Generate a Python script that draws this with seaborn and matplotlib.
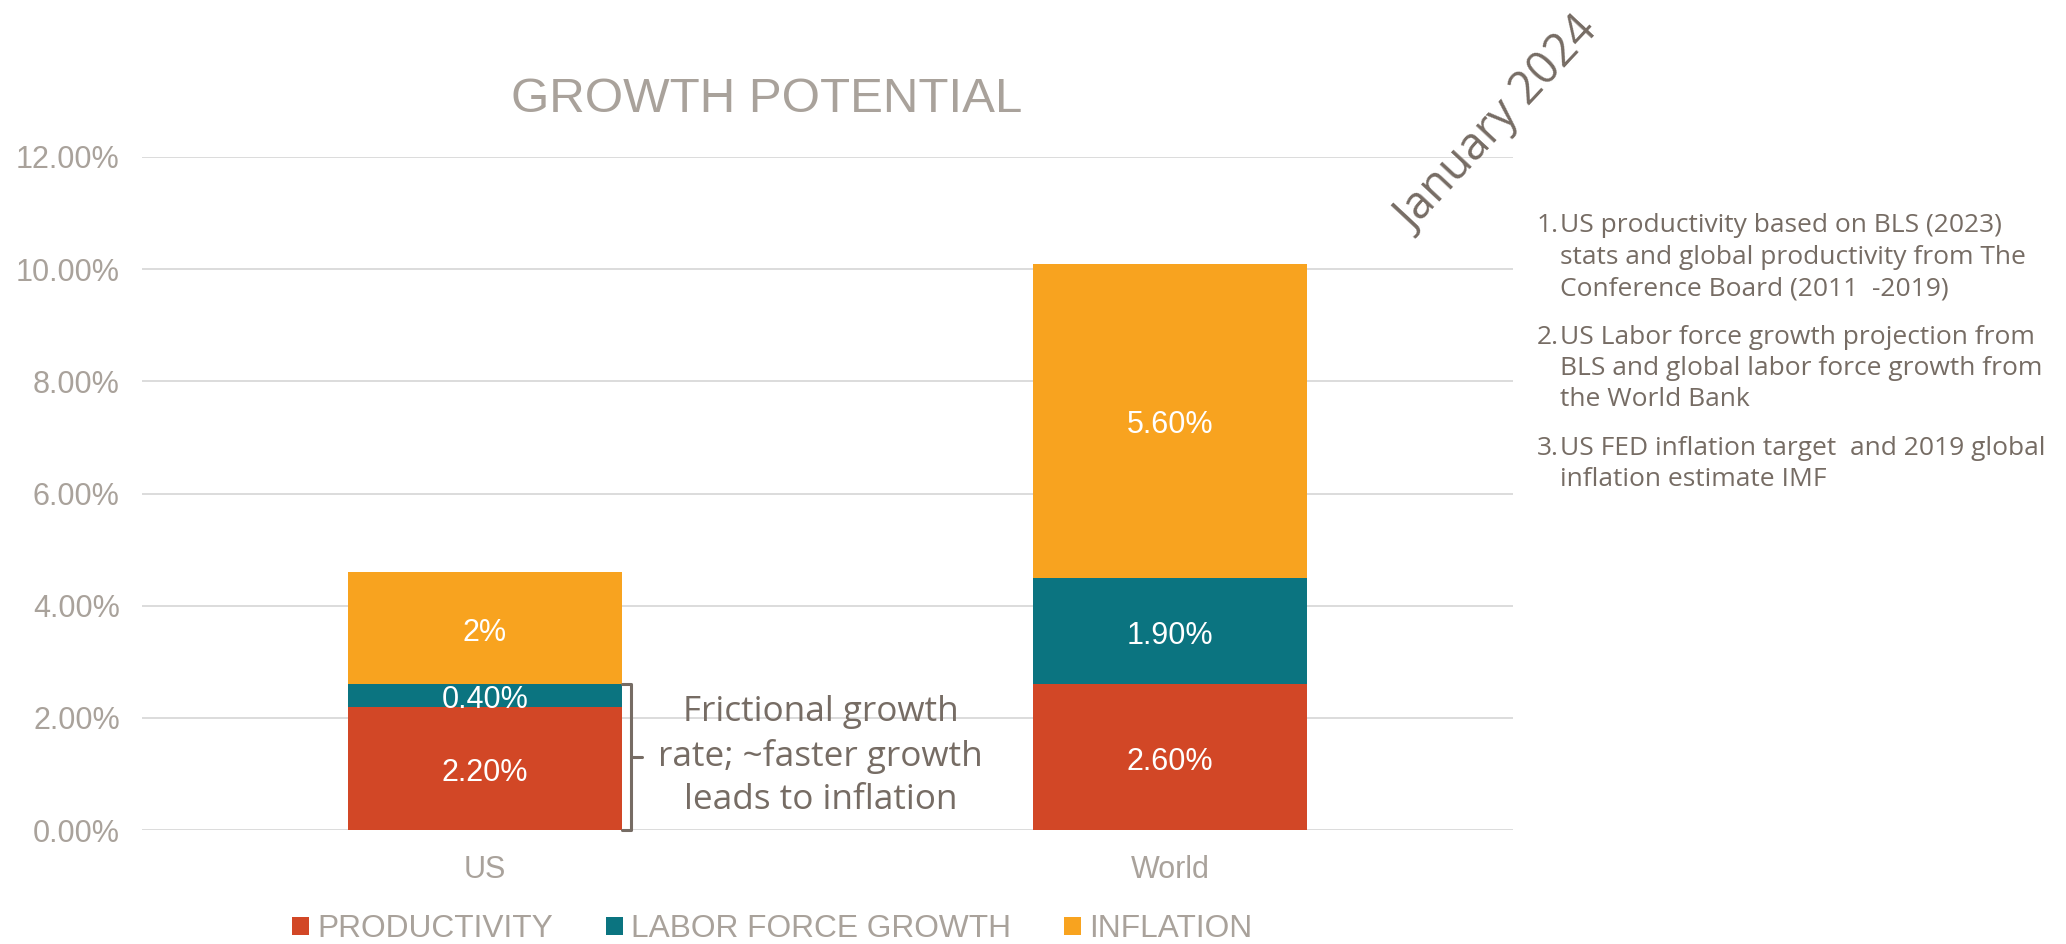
import matplotlib
matplotlib.use("Agg")
import matplotlib.pyplot as plt
import seaborn as sns
import pandas as pd
import numpy as np
from matplotlib.patches import Patch

# ---------------- data ----------------
categories = ["US", "World"]
productivity = [2.2, 2.6]
labor_force_growth = [0.4, 1.9]
inflation = [2.0, 5.6]
series_names = ["PRODUCTIVITY", "LABOR FORCE GROWTH", "INFLATION"]
productivity_labels = ["2.20%", "2.60%"]
labor_labels = ["0.40%", "1.90%"]
inflation_labels = ["2%", "5.60%"]
y_ticks = [0, 2, 4, 6, 8, 10, 12]
y_tick_labels = ["0.00%", "2.00%", "4.00%", "6.00%", "8.00%", "10.00%", "12.00%"]
title_text = "GROWTH POTENTIAL"
date_stamp = "January 2024"
annotation_text = "Frictional growth\nrate; ~faster growth\nleads to inflation"
note_numbers = ["1.", "2.", "3."]
notes = [
    ["US productivity based on BLS (2023)",
     "stats and global productivity from The",
     "Conference Board (2011  -2019)"],
    ["US Labor force growth projection from",
     "BLS and global labor force growth from",
     "the World Bank"],
    ["US FED inflation target  and 2019 global",
     "inflation estimate IMF"],
]

# ---------------- style ----------------
C_PROD = "#D24726"
C_LAB = "#0B7480"
C_INF = "#F8A31F"
GREY = "#A9A29B"
DARK = "#766C64"
GRID = "#DCDCDC"

sns.set_theme(style="white")
plt.rcParams["font.family"] = ["Liberation Sans", "DejaVu Sans"]
SEGOE = ["Open Sans", "DejaVu Sans"]

fig = plt.figure(figsize=(20.66, 9.44), dpi=100)
ax = fig.add_axes([142 / 2066, 1 - 830 / 944, (1513 - 142) / 2066, (830 - 157) / 944])

df = pd.DataFrame({
    "category": categories,
    "prod": productivity,
    "labor": labor_force_growth,
    "infl": inflation,
})
df["top_labor"] = df["prod"] + df["labor"]
df["top_infl"] = df["top_labor"] + df["infl"]

# stacked bars drawn as overlapping cumulative bars
for col, color in [("top_infl", C_INF), ("top_labor", C_LAB), ("prod", C_PROD)]:
    sns.barplot(data=df, x="category", y=col, color=color, saturation=1,
                width=0.4, errorbar=None, linewidth=0, ax=ax)

ax.set_xlim(-0.5, 1.5)
ax.set_ylim(0, 12)
ax.set_yticks(y_ticks)
ax.set_yticklabels(y_tick_labels)
ax.set_xlabel("")
ax.set_ylabel("")
ax.yaxis.grid(True, color=GRID, lw=1.4)
ax.set_axisbelow(True)
for s in ax.spines.values():
    s.set_visible(False)
ax.tick_params(axis="y", length=0, pad=16, labelsize=22, labelcolor=GREY)
ax.tick_params(axis="x", length=0, pad=18, labelsize=22, labelcolor=GREY)

# value labels
for i in range(len(categories)):
    bottoms = [0, df["prod"][i], df["top_labor"][i]]
    vals = [productivity[i], labor_force_growth[i], inflation[i]]
    labs = [productivity_labels[i], labor_labels[i], inflation_labels[i]]
    for b, v, l in zip(bottoms, vals, labs):
        ax.annotate(l, (i, b + v / 2), xytext=(0, -3.5), textcoords="offset points",
                    ha="center", va="center", color="white", fontsize=22)

# bracket annotation around US productivity + labour
top = df["top_labor"][0]
x_edge = 0 + 0.2
x_br = x_edge + 0.0135
x_tick = x_br + 0.016
ax.plot([x_edge, x_br, x_br, x_edge], [top, top, 0, 0], color=DARK, lw=2.2,
        solid_joinstyle="round", clip_on=False)
ax.plot([x_br, x_tick], [top / 2, top / 2], color=DARK, lw=2.2, clip_on=False)
ax.text(0.49, 1.32, annotation_text, ha="center", va="center", color=DARK,
        fontsize=25.3, family=SEGOE, linespacing=1.36)

# title
fig.text(767 / 2066, 1 - 99 / 944, title_text, ha="center", va="center",
         color=GREY, fontsize=35.5)

# date stamp
fig.text(1498 / 2066, 1 - 125 / 944, date_stamp, ha="center", va="center",
         rotation=47, rotation_mode="anchor", color=DARK, fontsize=32.5, family=SEGOE)

# notes
y = 223
for num, lines in zip(note_numbers, notes):
    for j, line in enumerate(lines):
        if j == 0:
            fig.text(1537 / 2066, 1 - (y + 9) / 944, num, ha="left", va="baseline",
                     color=DARK, fontsize=19, family=SEGOE)
        fig.text(1560 / 2066, 1 - (y + 9) / 944, line, ha="left", va="baseline",
                 color=DARK, fontsize=19, family=SEGOE)
        y += 31.5
    y += 17

# legend
handles = [Patch(facecolor=c, edgecolor="none") for c in (C_PROD, C_LAB, C_INF)]
leg = fig.legend(handles, series_names, loc="center", bbox_to_anchor=(772 / 2066, 1 - 929 / 944),
                 ncol=3, frameon=False, fontsize=22.8, handlelength=0.54, handleheight=0.5,
                 handletextpad=0.25, columnspacing=1.67, borderpad=0, borderaxespad=0)
for t in leg.get_texts():
    t.set_color(GREY)

fig.savefig("out.png", dpi=100)
